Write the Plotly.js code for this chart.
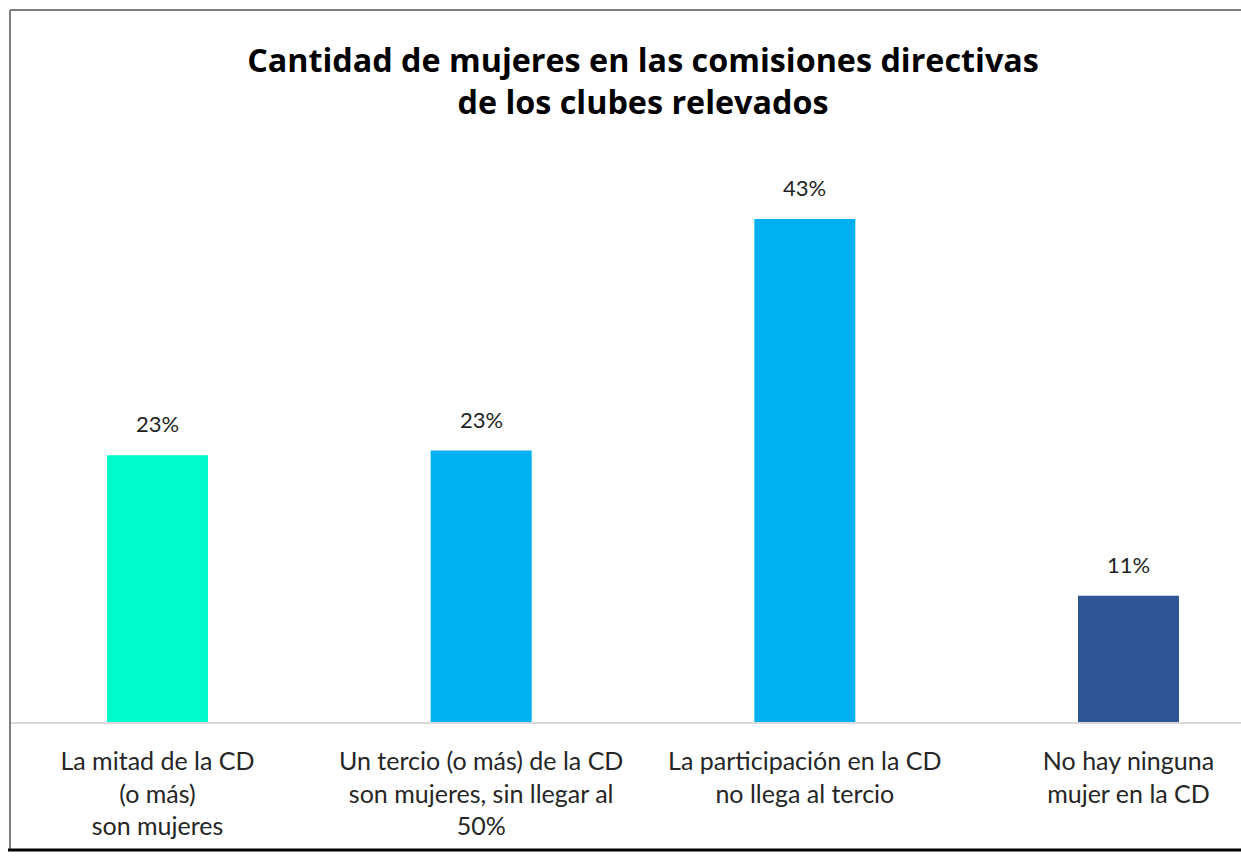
<!DOCTYPE html>
<html>
<head>
<meta charset="utf-8">
<script src="https://cdn.plot.ly/plotly-3.0.1.min.js"></script>
<style>html,body{margin:0;padding:0;background:#fff;}#chart{width:1241px;height:859px;}</style>
</head>
<body>
<div id="chart"></div>
<script>
const categories = ['mitad', 'tercio', 'participacion', 'ninguna'];
const tickLabels = [
  'La mitad de la CD<br>(o más)<br>son mujeres',
  'Un tercio (o más) de la CD<br>son mujeres, sin llegar al<br>50%',
  'La participación en la CD<br>no llega al tercio',
  'No hay ninguna<br>mujer en la CD'
];
const values = [22.8, 23.2, 43.0, 10.8];
const valueLabels = ['23%', '23%', '43%', '11%'];
const barColors = ['#00FACC', '#00B0F0', '#00B0F0', '#2F5597'];

const L = 10, R = 0, T = 150, B = 137, W = 1241, H = 859;
const pw = W - L - R, ph = H - T - B;
const px = v => (v - L) / pw;
const py = v => (H - B - v) / ph;

const trace = {
  type: 'bar',
  x: categories,
  y: values,
  width: 0.312,
  marker: {color: barColors},
  hoverinfo: 'none'
};

const annotations = categories.map((c, i) => ({
  x: c, y: values[i], xref: 'x', yref: 'y',
  text: valueLabels[i], showarrow: false,
  yanchor: 'bottom', yshift: 16,
  font: {family: 'Lato, sans-serif', size: 22, color: '#1F1F1F'}
}));

const layout = {
  width: W, height: H,
  margin: {l: L, r: R, t: T, b: B},
  paper_bgcolor: '#fff', plot_bgcolor: '#fff',
  showlegend: false,
  title: {
    text: '<b>Cantidad de mujeres en las comisiones directivas<br>de los clubes relevados</b>',
    x: 643 / W, xanchor: 'center',
    y: 1 - 72 / H, yanchor: 'top',
    font: {family: '"Open Sans", sans-serif', size: 32.3, color: '#000'}
  },
  xaxis: {
    type: 'category',
    range: [-0.4557, 3.3476],
    tickmode: 'array', tickvals: categories, ticktext: tickLabels,
    showline: true, linecolor: '#D9D9D9', linewidth: 2,
    ticks: 'outside', ticklen: 16, tickcolor: 'rgba(0,0,0,0)',
    tickfont: {family: 'Lato, sans-serif', size: 25, color: '#262626'},
    showgrid: false, zeroline: false, fixedrange: true
  },
  yaxis: {
    range: [0, ph / 11.7],
    visible: false, showgrid: false, zeroline: false, fixedrange: true
  },
  annotations: annotations,
  shapes: [
    {type: 'line', xref: 'paper', yref: 'paper', x0: px(10), x1: px(10), y0: py(10), y1: py(850), line: {color: '#7F7F7F', width: 2}},
    {type: 'line', xref: 'paper', yref: 'paper', x0: px(10), x1: px(1241), y0: py(10), y1: py(10), line: {color: '#7F7F7F', width: 2}},
    {type: 'line', xref: 'paper', yref: 'paper', x0: px(8), x1: px(1241), y0: py(850), y1: py(850), line: {color: '#000', width: 3}}
  ]
};

Plotly.newPlot('chart', [trace], layout, {displayModeBar: false, staticPlot: true});
</script>
</body>
</html>
